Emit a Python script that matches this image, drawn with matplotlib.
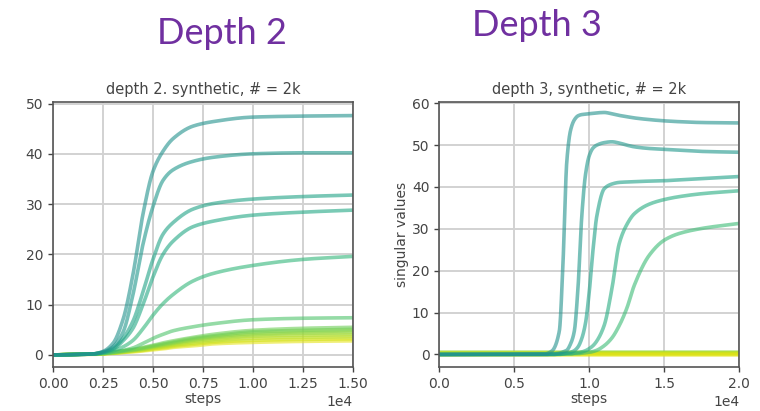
import matplotlib
matplotlib.use("Agg")
import matplotlib.pyplot as plt
import numpy as np

# ---------------- data: depth 2 ----------------
steps_d2 = [0, 2000, 2500, 3000, 3500, 4000, 4500, 5000, 5500, 6000, 7000, 8000, 10000, 12500, 15000]
d2_curves = [
    [0, 0.2, 0.7, 2.3, 7.0, 16.0, 28.0, 36.5, 40.5, 43.0, 45.5, 46.4, 47.3, 47.5, 47.6],
    [0, 0.2, 0.6, 1.6, 4.5, 12.0, 22.0, 29.5, 34.7, 36.8, 38.5, 39.3, 40.0, 40.2, 40.2],
    [0, 0.2, 0.5, 1.3, 3.3, 6.7, 12.5, 19.0, 24.0, 26.3, 29.0, 30.1, 31.0, 31.5, 31.8],
    [0, 0.2, 0.5, 1.1, 2.8, 5.3, 10.0, 15.5, 20.0, 22.6, 25.5, 26.6, 27.8, 28.4, 28.8],
    [0, 0.2, 0.4, 0.8, 1.6, 2.9, 5.2, 7.9, 10.2, 12.0, 14.7, 16.2, 17.8, 19.0, 19.6],
    [0, 0.2, 0.3, 0.6, 0.9, 1.4, 2.3, 3.3, 4.1, 4.8, 5.6, 6.2, 7.0, 7.3, 7.4],
    [0, 0.2, 0.3, 0.5, 0.8, 1.1, 1.5, 1.9, 2.4, 2.8, 3.5, 4.1, 4.9, 5.3, 5.5],
    [0, 0.2, 0.3, 0.5, 0.8, 1.0, 1.4, 1.8, 2.2, 2.6, 3.3, 3.8, 4.6, 4.9, 5.1],
    [0, 0.2, 0.3, 0.5, 0.7, 1.0, 1.3, 1.7, 2.1, 2.4, 3.1, 3.6, 4.3, 4.6, 4.8],
    [0, 0.2, 0.3, 0.4, 0.7, 0.9, 1.2, 1.6, 1.9, 2.3, 2.9, 3.4, 4.0, 4.3, 4.4],
    [0, 0.2, 0.3, 0.4, 0.6, 0.9, 1.1, 1.5, 1.8, 2.1, 2.7, 3.1, 3.7, 3.9, 4.0],
    [0, 0.2, 0.3, 0.4, 0.6, 0.8, 1.0, 1.3, 1.6, 1.9, 2.4, 2.8, 3.3, 3.5, 3.6],
    [0, 0.2, 0.2, 0.4, 0.5, 0.7, 0.9, 1.2, 1.4, 1.7, 2.1, 2.5, 2.9, 3.1, 3.2],
    [0, 0.1, 0.2, 0.3, 0.5, 0.6, 0.8, 1.0, 1.2, 1.5, 1.8, 2.2, 2.5, 2.7, 2.8],
]
d2_color_pos = [0.50, 0.53, 0.58, 0.60, 0.66, 0.72, 0.78, 0.80, 0.83, 0.85, 0.88, 0.90, 0.93, 0.96]

# ---------------- data: depth 3 ----------------
steps_d3 = [0, 7000, 7500, 8000, 8250, 8500, 8750, 9000, 9250, 9500, 9750, 10000, 10250,
            10500, 11000, 11500, 12000, 12500, 13000, 14000, 15000, 16000, 17500, 20000]
d3_curves = [
    [0, 0.1, 0.8, 5.5, 22.0, 46.0, 53.5, 56.0, 57.0, 57.3, 57.4, 57.5, 57.6,
     57.7, 57.8, 57.5, 57.1, 56.8, 56.5, 56.1, 55.8, 55.6, 55.4, 55.3],
    [0, 0.0, 0.1, 0.3, 0.6, 1.0, 2.5, 5.5, 16.0, 33.0, 43.0, 47.5, 49.3,
     50.0, 50.6, 50.8, 50.5, 50.0, 49.6, 49.2, 49.0, 48.8, 48.5, 48.3],
    [0, 0.0, 0.0, 0.1, 0.2, 0.3, 0.5, 0.9, 1.8, 3.8, 7.5, 15.0, 25.0,
     33.0, 39.6, 40.7, 41.1, 41.2, 41.3, 41.4, 41.5, 41.7, 42.0, 42.5],
    [0, 0.0, 0.0, 0.1, 0.1, 0.2, 0.2, 0.3, 0.4, 0.6, 0.9, 1.4, 2.1,
     3.2, 7.0, 15.5, 26.5, 31.0, 33.6, 35.9, 37.0, 37.7, 38.4, 39.1],
    [0, 0.0, 0.0, 0.0, 0.1, 0.1, 0.1, 0.2, 0.2, 0.3, 0.4, 0.5, 0.7,
     1.0, 2.1, 3.9, 6.9, 11.0, 16.5, 23.7, 27.3, 28.9, 30.1, 31.3],
]
d3_flat_levels = [0.6, 0.45, 0.35, 0.25, 0.15, 0.05, -0.05]
d3_color_pos = [0.50, 0.53, 0.57, 0.62, 0.68]
d3_flat_color_pos = [0.84, 0.86, 0.88, 0.90, 0.92, 0.94, 0.96]


def pchip(x, y, n=600):
    """Shape-preserving cubic interpolation, only to draw the read points smoothly."""
    x = np.asarray(x, float)
    y = np.asarray(y, float)
    h = np.diff(x)
    d = np.diff(y) / h
    m = np.zeros_like(y)
    for k in range(1, len(x) - 1):
        if d[k - 1] * d[k] > 0:
            w1 = 2 * h[k] + h[k - 1]
            w2 = h[k] + 2 * h[k - 1]
            m[k] = (w1 + w2) / (w1 / d[k - 1] + w2 / d[k])
    m[0] = d[0]
    m[-1] = d[-1]
    xs = np.linspace(x[0], x[-1], n)
    idx = np.clip(np.searchsorted(x, xs) - 1, 0, len(x) - 2)
    t = (xs - x[idx]) / h[idx]
    h00 = 2 * t**3 - 3 * t**2 + 1
    h10 = t**3 - 2 * t**2 + t
    h01 = -2 * t**3 + 3 * t**2
    h11 = t**3 - t**2
    ys = h00 * y[idx] + h10 * h[idx] * m[idx] + h01 * y[idx + 1] + h11 * h[idx] * m[idx + 1]
    return xs, ys


cmap = plt.get_cmap("viridis")

fig = plt.figure(figsize=(7.6, 4.11), dpi=100)
ax1 = fig.add_axes([0.0697, 0.107, 0.3947, 0.6448])
ax2 = fig.add_axes([0.578, 0.107, 0.3947, 0.6448])

LW = 2.6
ALPHA = 0.6

for vals, cp in zip(d2_curves[::-1], d2_color_pos[::-1]):
    xs, ys = pchip(steps_d2, vals)
    ax1.plot(xs, ys, color=cmap(cp), lw=LW, alpha=ALPHA)

for lvl, cp in zip(d3_flat_levels, d3_flat_color_pos):
    ax2.plot(steps_d3, [lvl] * len(steps_d3), color=cmap(cp), lw=LW, alpha=ALPHA)
for vals, cp in zip(d3_curves[::-1], d3_color_pos[::-1]):
    xs, ys = pchip(steps_d3, vals, n=1500)
    ax2.plot(xs, ys, color=cmap(cp), lw=LW, alpha=ALPHA)

ax1.set_xlim(0, 15000)
ax1.set_ylim(-2.4, 50.3)
ax1.set_yticks([0, 10, 20, 30, 40, 50])
ax1.set_xticks([0, 2500, 5000, 7500, 10000, 12500, 15000])
ax2.set_xlim(0, 20000)
ax2.set_ylim(-3.0, 60.3)
ax2.set_yticks([0, 10, 20, 30, 40, 50, 60])
ax2.set_xticks([0, 5000, 10000, 15000, 20000])

for ax in (ax1, ax2):
    ax.ticklabel_format(style="sci", axis="x", scilimits=(0, 0))
    ax.grid(True, color="#d2d2d2", lw=1.4)
    ax.set_axisbelow(True)
    for sp in ax.spines.values():
        sp.set_color("#555555")
        sp.set_linewidth(1.2)
    ax.tick_params(colors="#444444", labelsize=10, width=1.0, length=3.5)
    ax.xaxis.get_offset_text().set_color("#444444")
    ax.xaxis.get_offset_text().set_fontsize(10)
    ax.set_xlabel("steps", color="#444444", fontsize=10, labelpad=1)

ax2.set_ylabel("singular values", color="#444444", fontsize=10, labelpad=2)

ax1.set_title("depth 2. synthetic, # = 2k", color="#444444", fontsize=10.5)
ax2.set_title("depth 3, synthetic, # = 2k", color="#444444", fontsize=10.5)

fig.text(222 / 760, 1 - 33 / 411, "Depth 2", color="#7030A0", fontsize=26,
         family="Lato", ha="center", va="center")
fig.text(537 / 760, 1 - 25 / 411, "Depth 3", color="#7030A0", fontsize=26,
         family="Lato", ha="center", va="center")

fig.savefig("out.png", dpi=100)
